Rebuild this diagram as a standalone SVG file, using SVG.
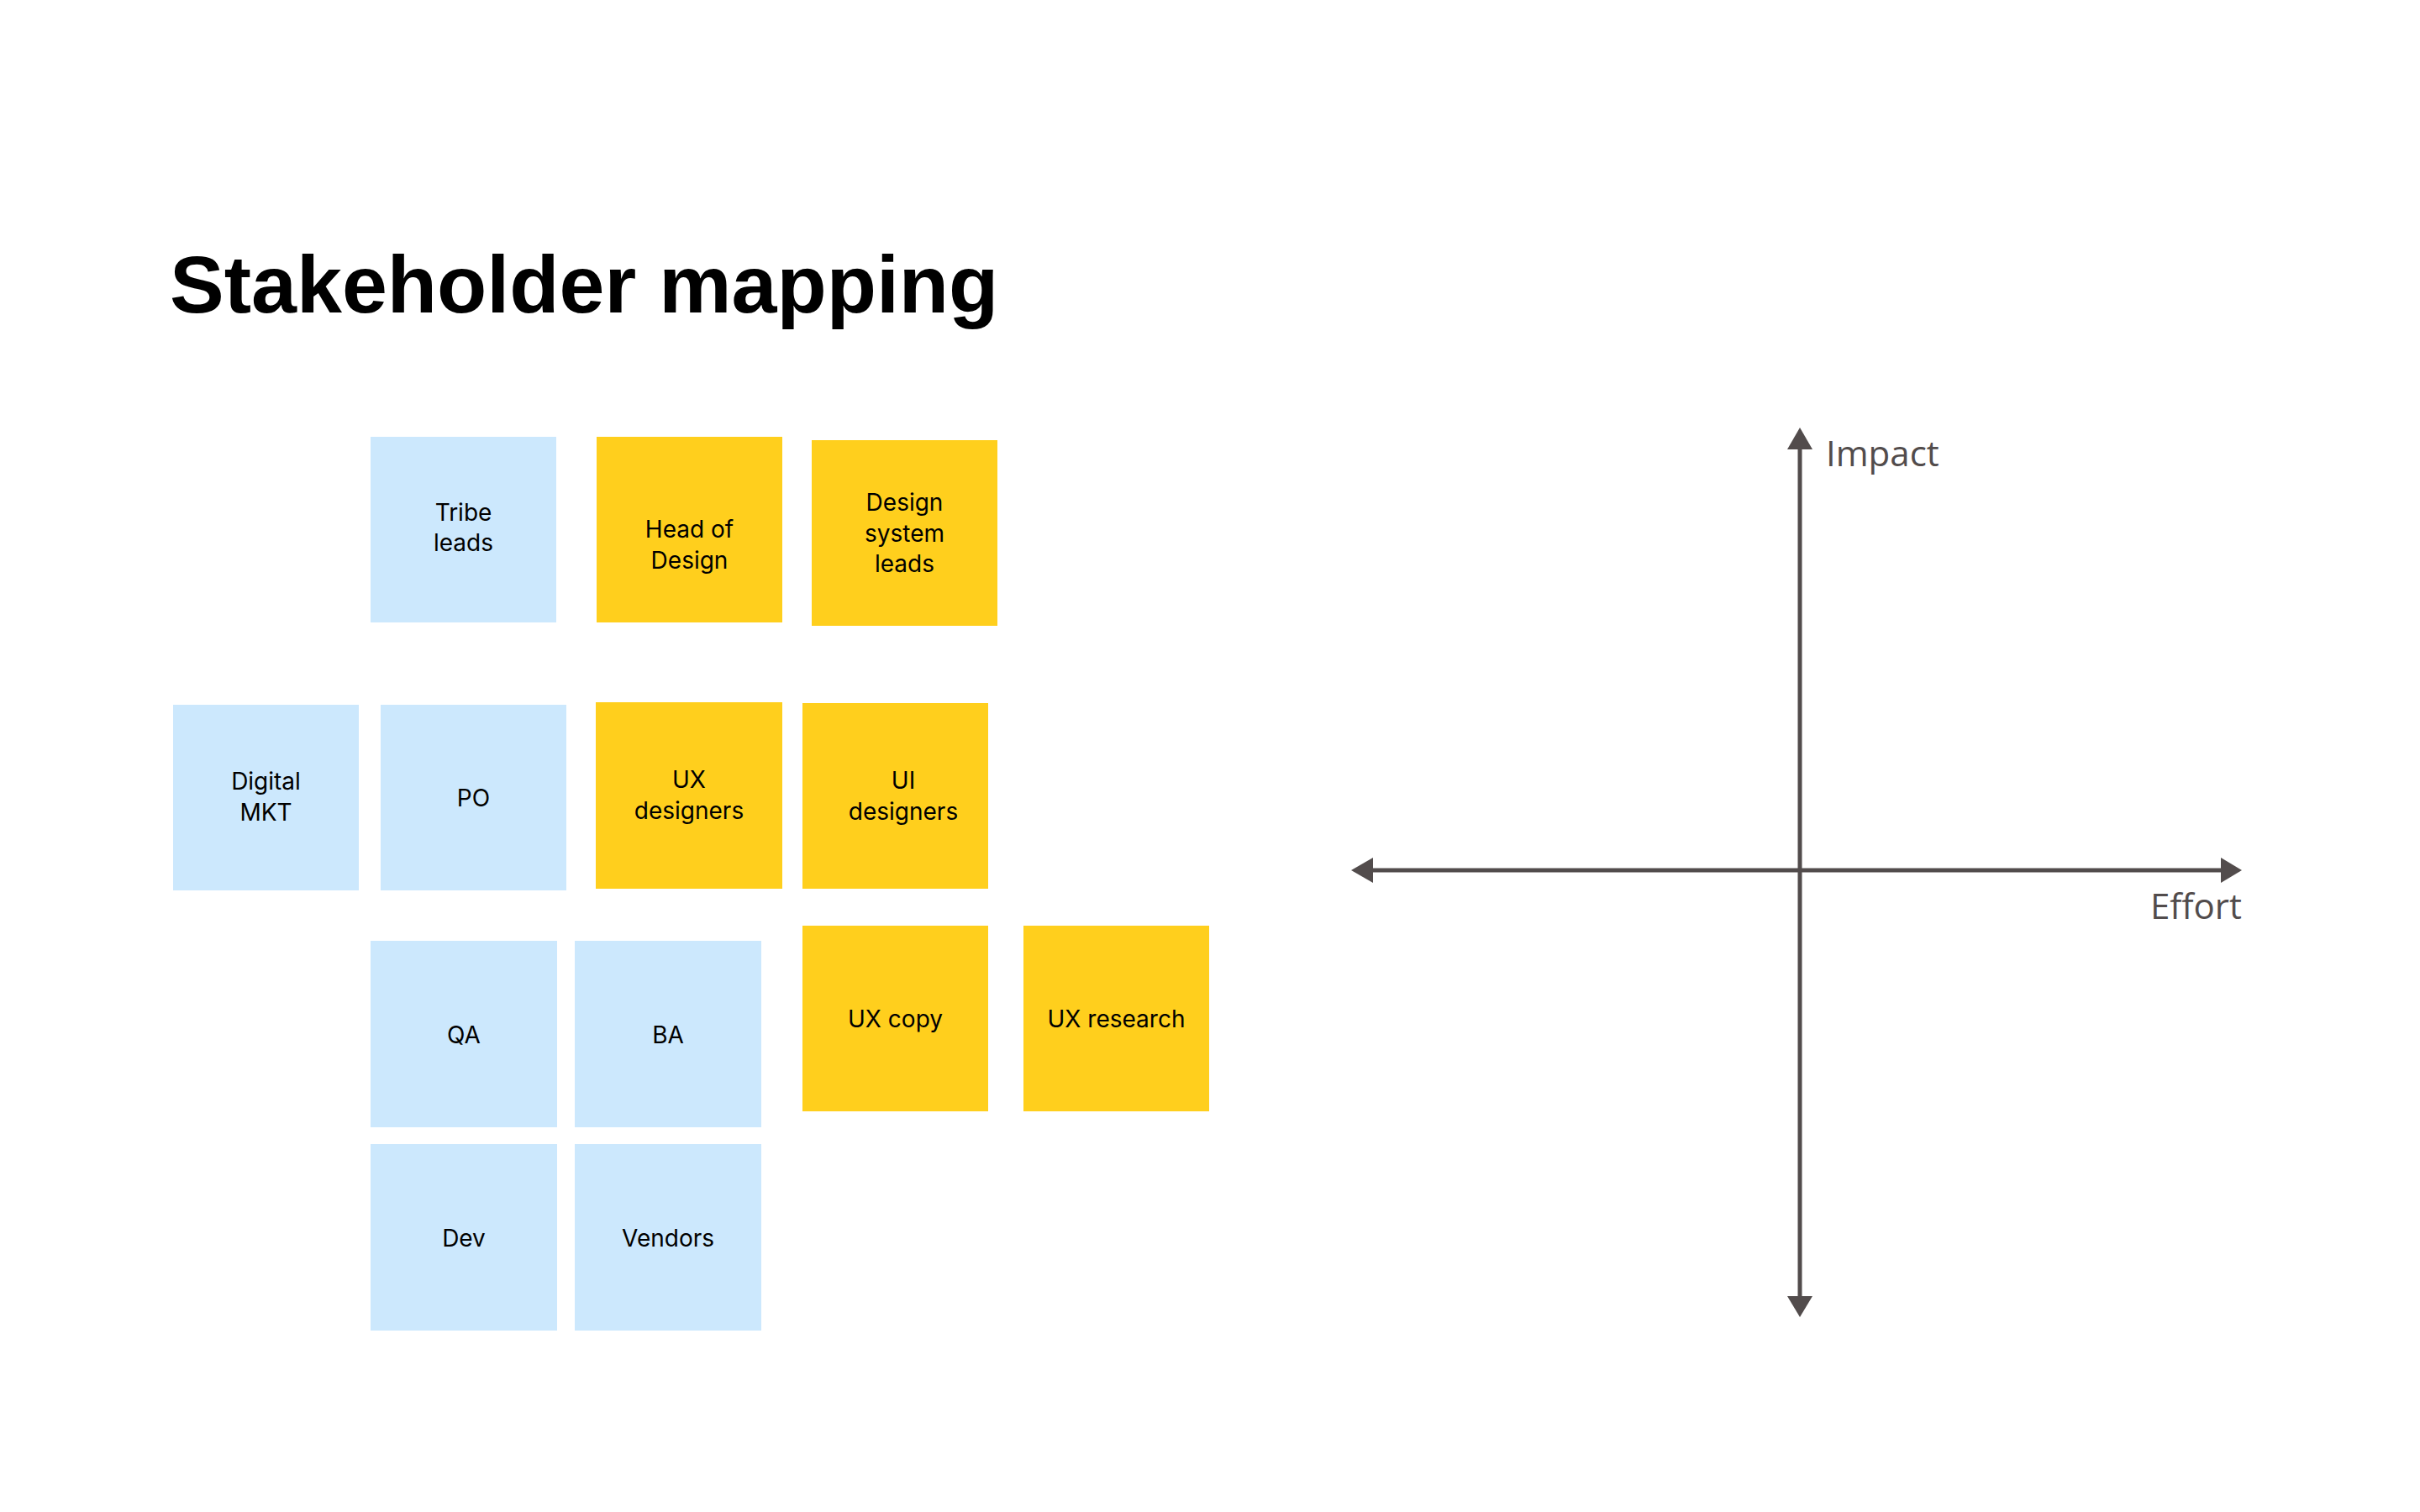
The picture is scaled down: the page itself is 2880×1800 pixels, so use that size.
<svg xmlns="http://www.w3.org/2000/svg" width="2880" height="1800" viewBox="0 0 2880 1800">
<defs>
<style>
.title{font-family:"Liberation Sans",Arial,sans-serif;font-weight:700;font-size:97px;fill:#000}
.blue{fill:#CCE8FD}
.yellow{fill:#FFCF1D}
.lbl{font-family:Inter,"Liberation Sans",sans-serif;font-size:28px;fill:#000;text-anchor:middle}
.axis{stroke:#524C4C;stroke-width:5;fill:none}
.head{fill:#524C4C}
.axlbl{font-family:"Open Sans","Noto Sans",sans-serif;font-size:42px;fill:#524C4C}
</style>
</defs>
<rect width="2880" height="1800" fill="#fff"/>
<text class="title" x="202" y="372">Stakeholder mapping</text>

<g id="tribe-leads"><rect class="blue" x="441" y="520" width="221" height="221"/><text class="lbl"><tspan x="551.5" y="620">Tribe</tspan><tspan x="551.5" y="656">leads</tspan></text></g>
<g id="head-of-design"><rect class="yellow" x="710" y="520" width="221" height="221"/><text class="lbl"><tspan x="820.5" y="640">Head of</tspan><tspan x="820.5" y="677">Design</tspan></text></g>
<g id="design-system-leads"><rect class="yellow" x="966" y="524" width="221" height="221"/><text class="lbl"><tspan x="1076.5" y="608">Design</tspan><tspan x="1076.5" y="645">system</tspan><tspan x="1076.5" y="681">leads</tspan></text></g>

<g id="digital-mkt"><rect class="blue" x="206" y="839" width="221" height="221"/><text class="lbl"><tspan x="316.5" y="940">Digital</tspan><tspan x="316.5" y="977">MKT</tspan></text></g>
<g id="po"><rect class="blue" x="453" y="839" width="221" height="221"/><text class="lbl" x="563.5" y="960">PO</text></g>
<g id="ux-designers"><rect class="yellow" x="709" y="836" width="222" height="222"/><text class="lbl"><tspan x="820" y="938">UX</tspan><tspan x="820" y="975">designers</tspan></text></g>
<g id="ui-designers"><rect class="yellow" x="955" y="837" width="221" height="221"/><text class="lbl"><tspan x="1075" y="939">UI</tspan><tspan x="1075" y="976">designers</tspan></text></g>

<g id="qa"><rect class="blue" x="441" y="1120" width="222" height="222"/><text class="lbl" x="552" y="1242">QA</text></g>
<g id="ba"><rect class="blue" x="684" y="1120" width="222" height="222"/><text class="lbl" x="795" y="1242">BA</text></g>
<g id="ux-copy"><rect class="yellow" x="955" y="1102" width="221" height="221"/><text class="lbl" x="1065.5" y="1223">UX copy</text></g>
<g id="ux-research"><rect class="yellow" x="1218" y="1102" width="221" height="221"/><text class="lbl" x="1328.5" y="1223">UX research</text></g>

<g id="dev"><rect class="blue" x="441" y="1362" width="222" height="222"/><text class="lbl" x="552" y="1484">Dev</text></g>
<g id="vendors"><rect class="blue" x="684" y="1362" width="222" height="222"/><text class="lbl" x="795" y="1484">Vendors</text></g>

<g id="connectors">
<line class="axis" x1="2142" y1="530" x2="2142" y2="1548"/>
<line class="axis" x1="1630" y1="1036" x2="2648" y2="1036"/>
<polygon class="head" points="2142,509 2127,535 2157,535"/>
<polygon class="head" points="2142,1568 2127,1543 2157,1543"/>
<polygon class="head" points="1608,1036 1634,1021 1634,1051"/>
<polygon class="head" points="2668,1036 2643,1021 2643,1051"/>
</g>
<text class="axlbl" x="2173" y="555">Impact</text>
<text class="axlbl" x="2668" y="1094" text-anchor="end">Effort</text>
</svg>
